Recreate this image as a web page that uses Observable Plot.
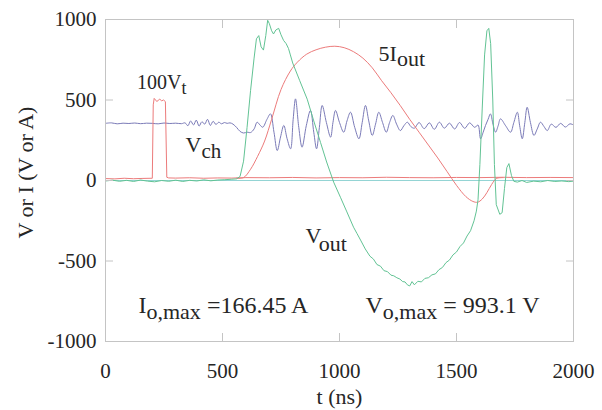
<!DOCTYPE html>
<html><head><meta charset="utf-8">
<script src="https://cdn.jsdelivr.net/npm/d3@7"></script>
<script src="https://cdn.jsdelivr.net/npm/@observablehq/plot@0.6"></script>
<style>
html,body{margin:0;padding:0;background:#fff;}
#chart svg{display:block;}
</style>
</head><body><div id="chart"></div>
<script>
// ---- tick values ----
const xTicks = [0, 500, 1000, 1500, 2000];
const yTicks = [-1000, -500, 0, 500, 1000];

// ---- 100 V_t (gate trigger, red) ----
const vtT = [0, 40, 80, 120, 160, 200, 204, 208, 214, 220,
             226, 232, 240, 248, 256, 262, 270, 300, 360, 420,
             480, 540, 600, 700, 800, 900, 1000, 1100, 1200, 1300,
             1400, 1500, 1600, 1700, 1800, 1900, 2000];
const vtV = [12, 10, 14, 11, 13, 14, 470, 510, 500, 490,
             500, 505, 495, 500, 490, 20, 16, 15, 17, 14,
             16, 15, 18, 17, 19, 16, 18, 17, 20, 18,
             17, 19, 18, 20, 18, 19, 18];

// ---- 5 I_out (red) ----
const ioT = [560, 590, 620, 650, 680, 710, 750, 790, 820, 860,
             900, 940, 980, 1020, 1060, 1100, 1140, 1180, 1220, 1260,
             1300, 1340, 1380, 1420, 1460, 1500, 1540, 1570, 1590, 1610,
             1630, 1650, 1670, 1700];
const ioV = [14, 18, 70, 150, 245, 380, 565, 680, 735, 785,
             812, 828, 834, 825, 800, 760, 700, 620, 545, 465,
             380, 300, 220, 140, 55, -30, -100, -130, -135, -115,
             -75, -25, 12, 18];

// ---- V_ch (blue) ----
const vchT = [0, 25, 50, 75, 100, 125, 150, 175, 200, 225,
              250, 275, 300, 325, 340, 352, 364, 376, 388, 400,
              412, 424, 436, 448, 460, 472, 484, 496, 508, 520,
              532, 545, 560, 575, 590, 605, 620, 635, 648, 660,
              672, 690, 705, 720, 734, 748, 762, 776, 791, 802,
              812, 826, 840, 858, 876, 890, 902, 914, 926, 944,
              962, 972, 983, 1000, 1018, 1032, 1047, 1065, 1083, 1097,
              1111, 1125, 1140, 1154, 1168, 1184, 1200, 1214, 1228, 1244,
              1260, 1275, 1290, 1305, 1320, 1340, 1362, 1384, 1405, 1427,
              1448, 1470, 1492, 1513, 1535, 1556, 1578, 1592, 1603, 1614,
              1624, 1635, 1645, 1656, 1667, 1678, 1688, 1710, 1731, 1745,
              1760, 1770, 1781, 1792, 1802, 1816, 1831, 1845, 1859, 1874,
              1888, 1905, 1925, 1945, 1965, 1985, 2000];
const vchV = [355, 358, 352, 356, 354, 357, 353, 356, 355, 352,
              357, 354, 356, 353, 358, 340, 370, 345, 375, 338,
              365, 350, 380, 342, 368, 348, 362, 352, 360, 355,
              358, 350, 330, 305, 295, 300, 298, 320, 362, 345,
              331, 380, 414, 300, 186, 270, 342, 260, 197, 380,
              507, 330, 207, 340, 435, 300, 197, 330, 466, 360,
              269, 360, 435, 360, 300, 370, 424, 330, 259, 360,
              466, 370, 280, 350, 424, 360, 300, 360, 404, 350,
              310, 340, 362, 335, 325, 360, 322, 358, 318, 362,
              325, 356, 320, 360, 324, 358, 330, 345, 259, 300,
              342, 380, 414, 350, 300, 340, 383, 340, 300, 360,
              424, 340, 259, 360, 455, 360, 280, 320, 362, 335,
              310, 350, 330, 355, 332, 352, 345];

// ---- V_out (green) ----
const voT = [0, 30, 60, 90, 120, 150, 180, 210, 240, 270,
             300, 330, 360, 390, 420, 450, 480, 510, 540, 560,
             575, 590, 605, 620, 635, 645, 655, 665, 675, 685,
             693, 700, 710, 718, 728, 740, 750, 761, 772, 782,
             790, 800, 830, 862, 890, 919, 945, 975, 1004, 1030,
             1060, 1075, 1090, 1110, 1130, 1145, 1160, 1175, 1190, 1205,
             1220, 1232, 1245, 1258, 1270, 1280, 1290, 1300, 1310, 1320,
             1335, 1350, 1365, 1380, 1395, 1410, 1425, 1440, 1455, 1470,
             1485, 1500, 1515, 1530, 1545, 1560, 1575, 1585, 1592, 1600,
             1610, 1620, 1630, 1638, 1646, 1655, 1662, 1670, 1685, 1695,
             1705, 1715, 1724, 1735, 1745, 1760, 1780, 1800, 1830, 1860,
             1890, 1920, 1950, 1980, 2000];
const voV = [-3, 2, -5, 1, -6, 3, -4, -8, 0, -5,
             2, -6, 1, -3, 4, -2, 3, 5, 8, 10,
             25, 120, 330, 560, 760, 880, 900, 830, 810, 900,
             995, 975, 930, 910, 935, 945, 905, 870, 850, 820,
             780, 730, 620, 505, 370, 236, 115, -10, -104, -190,
             -290, -330, -370, -425, -470, -488, -522, -532, -560, -566,
             -588, -592, -604, -612, -628, -630, -648, -655, -628, -648,
             -626, -630, -608, -604, -586, -580, -554, -540, -510, -494,
             -462, -444, -410, -388, -345, -312, -250, -190, -120, 100,
             450, 780, 930, 945, 850, 500, 100, -150, -210, -200,
             -50, 80, 105, 30, -5, -10, 0, -12, -4, -8,
             0, -6, -3, -7, -4];

// ---- annotations ----
const labelMain = ["100V", "V", "5I", "V", "I", "V"];
const labelSub  = ["t", "ch", "out", "out", "o,max", "o,max"];
const labelTail = ["", "", "", "", " =166.45 A", " = 993.1 V"];
const labelT    = [135, 342, 1167, 855, 141, 1111];
const labelV    = [571, 174, 745, -391, -826, -820];

// ---- styles (not data) ----
const annStyle = [
  {size: 20, sub: 18, shift: 5},
  {size: 22, sub: 21, shift: 6},
  {size: 22, sub: 22, shift: 5},
  {size: 22, sub: 22, shift: 8},
  {size: 24, sub: 22, shift: 6},
  {size: 24, sub: 22, shift: 6}
];
const RED = "#ec7b7b", BLUE = "#7b7bb8", GREEN = "#62c394", TEAL = "#94d4d4";
const FRAME = "#c4c4c4", INK = "#262626";
const FONT = "'Liberation Serif', 'Times New Roman', serif";

const rows = (T, V) => T.map((t, i) => ({t, v: V[i]}));
const labels = labelMain.map((m, i) => ({
  t: labelT[i], v: labelV[i],
  key: m + "|" + labelSub[i] + "|" + labelTail[i],
  size: annStyle[i].size
}));

const plot = Plot.plot({
  width: 602, height: 410,
  marginLeft: 105, marginRight: 29, marginTop: 19, marginBottom: 69,
  style: {fontFamily: FONT, fontSize: "20px", color: INK, background: "#fff", overflow: "visible"},
  x: {domain: [0, 2000]},
  y: {domain: [-1000, 1000]},
  marks: [
    Plot.ruleY([0], {stroke: TEAL, strokeWidth: 1}),
    Plot.line(rows(vchT, vchV), {x: "t", y: "v", stroke: BLUE, strokeWidth: 1, curve: "catmull-rom"}),
    Plot.line(rows(vtT, vtV), {x: "t", y: "v", stroke: RED, strokeWidth: 1}),
    Plot.line(rows(ioT, ioV), {x: "t", y: "v", stroke: RED, strokeWidth: 1, curve: "catmull-rom"}),
    Plot.line(rows(voT, voV), {x: "t", y: "v", stroke: GREEN, strokeWidth: 1}),
    Plot.frame({stroke: FRAME}),
    Plot.axisY(yTicks, {anchor: "left", tickSize: -8, tickPadding: 17, stroke: FRAME, fill: INK,
      tickFormat: d => String(d), fontSize: 21, label: null}),
    Plot.axisY(yTicks, {anchor: "right", tickSize: -8, stroke: FRAME, tickFormat: () => "", label: null}),
    Plot.axisX(xTicks, {anchor: "bottom", tickSize: -8, tickPadding: 30, stroke: FRAME, fill: INK,
      tickFormat: d => String(d), fontSize: 21, label: null}),
    Plot.axisX(xTicks, {anchor: "top", tickSize: -8, stroke: FRAME, tickFormat: () => "", label: null}),
    Plot.text(["V or I (V or A)"], {frameAnchor: "left", textAnchor: "middle", rotate: -90, dx: -80, dy: -8,
      fontSize: 22, fill: INK}),
    Plot.text(["t (ns)"], {frameAnchor: "bottom", textAnchor: "middle", dy: 62, lineAnchor: "bottom",
      fontSize: 22, fill: INK}),
    Plot.text(labels, {x: "t", y: "v", text: "key", fontSize: "size", textAnchor: "start",
      lineAnchor: "bottom", fill: INK})
  ]
});

// turn "main|sub|tail" labels into real text with subscripts
d3.select(plot).selectAll("text").each(function () {
  const s = this.textContent;
  const i = labels.findIndex(l => l.key === s);
  if (i < 0) return;
  const st = annStyle[i];
  const sel = d3.select(this);
  sel.text(null);
  sel.append("tspan").text(labelMain[i]);
  sel.append("tspan").attr("dy", st.shift).attr("font-size", st.sub).text(labelSub[i]);
  if (labelTail[i]) sel.append("tspan").attr("dy", -st.shift).attr("font-size", st.size).text(labelTail[i]);
});

document.getElementById("chart").appendChild(plot);
</script>
</body></html>
